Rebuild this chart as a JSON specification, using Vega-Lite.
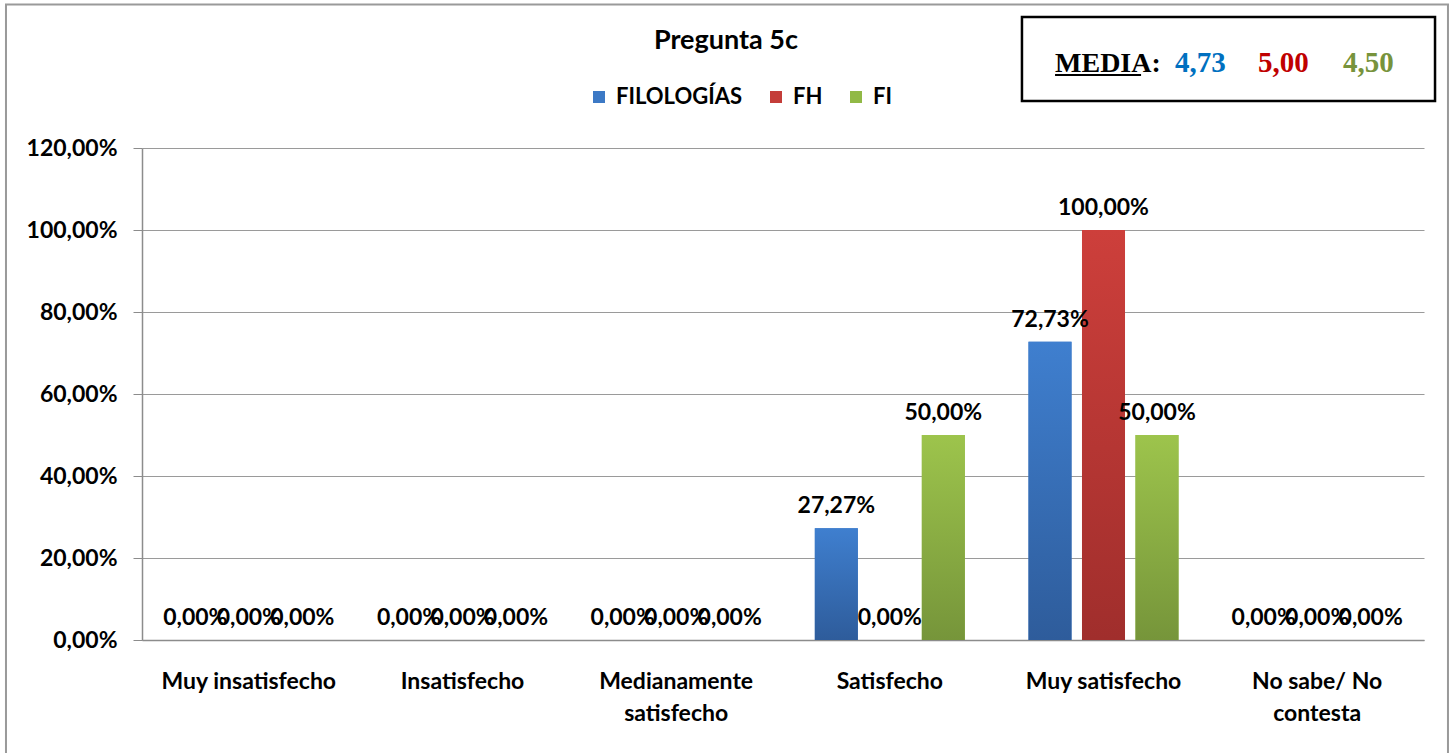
{
  "$schema": "https://vega.github.io/schema/vega-lite/v6.json",
  "width": 1282,
  "height": 492,
  "autosize": {"type": "none"},
  "padding": {"left": 142, "top": 148, "right": 32, "bottom": 113},
  "background": "white",
  "config": {
    "font": "Lato",
    "view": {"stroke": null},
    "locale": {"number": {"decimal": ",", "thousands": ".", "grouping": [3], "currency": ["", " €"]}}
  },
  "datasets": {
    "main": [
      {"categoria": "Muy insatisfecho", "grupo": "FILOLOGÍAS", "valor": 0},
      {"categoria": "Muy insatisfecho", "grupo": "FH", "valor": 0},
      {"categoria": "Muy insatisfecho", "grupo": "FI", "valor": 0},
      {"categoria": "Insatisfecho", "grupo": "FILOLOGÍAS", "valor": 0},
      {"categoria": "Insatisfecho", "grupo": "FH", "valor": 0},
      {"categoria": "Insatisfecho", "grupo": "FI", "valor": 0},
      {"categoria": "Medianamente satisfecho", "grupo": "FILOLOGÍAS", "valor": 0},
      {"categoria": "Medianamente satisfecho", "grupo": "FH", "valor": 0},
      {"categoria": "Medianamente satisfecho", "grupo": "FI", "valor": 0},
      {"categoria": "Satisfecho", "grupo": "FILOLOGÍAS", "valor": 0.2727},
      {"categoria": "Satisfecho", "grupo": "FH", "valor": 0},
      {"categoria": "Satisfecho", "grupo": "FI", "valor": 0.5},
      {"categoria": "Muy satisfecho", "grupo": "FILOLOGÍAS", "valor": 0.7273},
      {"categoria": "Muy satisfecho", "grupo": "FH", "valor": 1},
      {"categoria": "Muy satisfecho", "grupo": "FI", "valor": 0.5},
      {"categoria": "No sabe/ No contesta", "grupo": "FILOLOGÍAS", "valor": 0},
      {"categoria": "No sabe/ No contesta", "grupo": "FH", "valor": 0},
      {"categoria": "No sabe/ No contesta", "grupo": "FI", "valor": 0}
    ]
  },
  "resolve": {"scale": {"x": "independent"}},
  "layer": [
    {
      "data": {"name": "main"},
      "encoding": {
        "x": {
          "field": "categoria",
          "type": "nominal",
          "sort": ["Muy insatisfecho", "Insatisfecho", "Medianamente satisfecho", "Satisfecho", "Muy satisfecho", "No sabe/ No contesta"],
          "scale": {"paddingInner": 0, "paddingOuter": 0},
          "axis": {
            "title": null,
            "labelAngle": 0,
            "ticks": false,
            "domainColor": "#8c8c8c",
            "domainWidth": 1.5,
            "labelPadding": 30,
            "labelFontSize": 23,
            "labelFontWeight": "bold",
            "labelColor": "#000000",
            "labelLineHeight": 32,
            "labelLimit": 400,
            "labelExpr": "datum.value == 'Medianamente satisfecho' ? ['Medianamente', 'satisfecho'] : datum.value == 'No sabe/ No contesta' ? ['No sabe/ No', 'contesta'] : datum.value"
          }
        },
        "xOffset": {
          "field": "grupo",
          "type": "nominal",
          "sort": ["FILOLOGÍAS", "FH", "FI"],
          "scale": {"domain": ["FILOLOGÍAS", "FH", "FI"], "paddingInner": 0.196, "paddingOuter": 0.595}
        },
        "y": {
          "field": "valor",
          "type": "quantitative",
          "scale": {"domain": [0, 1.2], "nice": false, "zero": true},
          "axis": {
            "title": null,
            "values": [0, 0.2, 0.4, 0.6, 0.8, 1, 1.2],
            "format": ".2%",
            "grid": true,
            "gridColor": "#9a9a9a",
            "gridWidth": 1.2,
            "domainColor": "#8c8c8c",
            "domainWidth": 1.5,
            "tickColor": "#8c8c8c",
            "tickSize": 9,
            "labelPadding": 16,
            "labelFontSize": 23,
            "labelFontWeight": "bold",
            "labelColor": "#000000"
          }
        }
      },
      "layer": [
        {
          "mark": {"type": "bar"},
          "encoding": {
            "color": {
              "field": "grupo",
              "type": "nominal",
              "sort": ["FILOLOGÍAS", "FH", "FI"],
              "scale": {"domain": ["FILOLOGÍAS", "FH", "FI"], "range": ["#3C79C5", "#C43D39", "#91B946"]},
              "legend": {
                "title": null,
                "orient": "none",
                "legendX": 446,
                "legendY": -62,
                "direction": "horizontal",
                "symbolType": "square",
                "symbolSize": 144,
                "symbolStrokeWidth": 0,
                "labelFontSize": 22,
                "labelFontWeight": "bold",
                "labelColor": "#000000",
                "labelOffset": 6,
                "columnPadding": 22
              }
            }
          }
        },
        {
          "transform": [{"filter": "datum.grupo == 'FILOLOGÍAS'"}],
          "mark": {"type": "bar", "color": {"gradient": "linear", "x1": 0, "y1": 0, "x2": 0, "y2": 1, "stops": [{"offset": 0, "color": "#3F7FCF"}, {"offset": 1, "color": "#2E5C9B"}]}}
        },
        {
          "transform": [{"filter": "datum.grupo == 'FH'"}],
          "mark": {"type": "bar", "color": {"gradient": "linear", "x1": 0, "y1": 0, "x2": 0, "y2": 1, "stops": [{"offset": 0, "color": "#CD3F3B"}, {"offset": 1, "color": "#A02E2C"}]}}
        },
        {
          "transform": [{"filter": "datum.grupo == 'FI'"}],
          "mark": {"type": "bar", "color": {"gradient": "linear", "x1": 0, "y1": 0, "x2": 0, "y2": 1, "stops": [{"offset": 0, "color": "#9DC44C"}, {"offset": 1, "color": "#76953A"}]}}
        },
        {
          "mark": {"type": "text", "baseline": "alphabetic", "dy": -15, "fontSize": 23, "fontWeight": "bold", "color": "#000000"},
          "encoding": {"text": {"field": "valor", "type": "quantitative", "format": ".2%"}}
        }
      ]
    },
    {
      "data": {"values": [{"nota": "media"}]},
      "layer": [
        {
          "mark": {"type": "rect", "fill": null, "filled": false, "stroke": "#9a9a9a", "strokeWidth": 2},
          "encoding": {
            "x": {"datum": -0.1061, "type": "quantitative", "scale": {"domain": [0, 1], "nice": false, "zero": false}, "axis": null},
            "x2": {"datum": 1.0187},
            "y": {"datum": 1.55, "type": "quantitative", "scale": {"domain": [0, 1.2], "nice": false}},
            "y2": {"datum": -0.3}
          }
        },
        {
          "mark": {"type": "text", "text": "Pregunta 5c", "align": "center", "baseline": "alphabetic", "font": "Lato", "fontSize": 27, "fontWeight": "bold", "color": "#000000"},
          "encoding": {
            "x": {"datum": 0.4555, "type": "quantitative", "scale": {"domain": [0, 1], "nice": false, "zero": false}, "axis": null},
            "y": {"datum": 1.4415, "type": "quantitative", "scale": {"domain": [0, 1.2], "nice": false}}
          }
        },
        {
          "mark": {"type": "rect", "fill": "#ffffff", "stroke": "#000000", "strokeWidth": 2.5},
          "encoding": {
            "x": {"datum": 0.6864, "type": "quantitative", "scale": {"domain": [0, 1], "nice": false, "zero": false}, "axis": null},
            "x2": {"datum": 1.0086},
            "y": {"datum": 1.5195, "type": "quantitative", "scale": {"domain": [0, 1.2], "nice": false}},
            "y2": {"datum": 1.3146}
          }
        },
        {
          "mark": {"type": "text", "text": "MEDIA:", "align": "left", "baseline": "alphabetic", "font": "Liberation Serif", "fontSize": 28, "fontWeight": "bold", "color": "#000000"},
          "encoding": {
            "x": {"datum": 0.7122, "type": "quantitative", "scale": {"domain": [0, 1], "nice": false, "zero": false}, "axis": null},
            "y": {"datum": 1.3854, "type": "quantitative", "scale": {"domain": [0, 1.2], "nice": false}}
          }
        },
        {
          "mark": {"type": "rule", "color": "#000000", "strokeWidth": 2},
          "encoding": {
            "x": {"datum": 0.7122, "type": "quantitative", "scale": {"domain": [0, 1], "nice": false, "zero": false}, "axis": null},
            "x2": {"datum": 0.7793},
            "y": {"datum": 1.378, "type": "quantitative", "scale": {"domain": [0, 1.2], "nice": false}}
          }
        },
        {
          "mark": {"type": "text", "text": "4,73", "align": "left", "baseline": "alphabetic", "font": "Liberation Serif", "fontSize": 29, "fontWeight": "bold", "color": "#0070C0"},
          "encoding": {
            "x": {"datum": 0.8058, "type": "quantitative", "scale": {"domain": [0, 1], "nice": false, "zero": false}, "axis": null},
            "y": {"datum": 1.3854, "type": "quantitative", "scale": {"domain": [0, 1.2], "nice": false}}
          }
        },
        {
          "mark": {"type": "text", "text": "5,00", "align": "left", "baseline": "alphabetic", "font": "Liberation Serif", "fontSize": 29, "fontWeight": "bold", "color": "#C00000"},
          "encoding": {
            "x": {"datum": 0.8705, "type": "quantitative", "scale": {"domain": [0, 1], "nice": false, "zero": false}, "axis": null},
            "y": {"datum": 1.3854, "type": "quantitative", "scale": {"domain": [0, 1.2], "nice": false}}
          }
        },
        {
          "mark": {"type": "text", "text": "4,50", "align": "left", "baseline": "alphabetic", "font": "Liberation Serif", "fontSize": 29, "fontWeight": "bold", "color": "#77933C"},
          "encoding": {
            "x": {"datum": 0.9368, "type": "quantitative", "scale": {"domain": [0, 1], "nice": false, "zero": false}, "axis": null},
            "y": {"datum": 1.3854, "type": "quantitative", "scale": {"domain": [0, 1.2], "nice": false}}
          }
        }
      ]
    }
  ]
}
